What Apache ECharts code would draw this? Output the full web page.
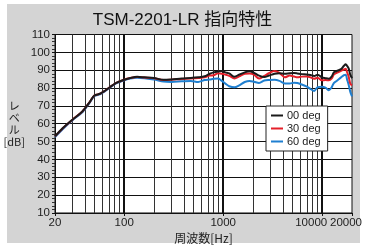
<!DOCTYPE html>
<html>
<head>
<meta charset="utf-8">
<script src="https://cdn.jsdelivr.net/npm/echarts@6/dist/echarts.min.js"></script>
<style>
  html, body { margin: 0; padding: 0; background: #fff; }
  #chart { width: 365px; height: 249px; }
</style>
</head>
<body>
<div id="chart"></div>
<script>
// frequency points (Hz) and levels (dB)
const freqs = [20, 24, 30, 38, 45, 50, 57, 64, 72, 84, 98, 115, 135, 160, 200, 250, 300, 380, 470, 560,
  650, 730, 800, 890, 970, 1050, 1150, 1300, 1450, 1650, 1850, 2050, 2300, 2600, 2900, 3300, 3700,
  4200, 4700, 5200, 5600, 6200, 7000, 7600, 8300, 9000, 9900, 10800, 11700, 12500, 13100, 14000,
  15500, 16600, 17300, 17800, 18500, 19200, 20000];
const deg00 = [53, 57.6, 62.3, 67, 72.3, 75.8, 76.8, 78.5, 80.6, 83, 84.5, 85.6, 86.3, 86, 85.6, 84.6, 84.8, 85.3, 85.6, 86,
  86.6, 88, 88.8, 89.3, 89.5, 88.8, 88.2, 86.3, 87.5, 88.8, 89.4, 88.5, 87, 86.2, 87, 88, 88.3,
  88, 88.3, 88.4, 88.2, 87.8, 87.6, 87.3, 86.8, 87.5, 86, 85.5, 85.2, 86.5, 88.8, 89.5,
  90.6, 92.5, 93.3, 92.5, 91, 87.5, 85.5];
const deg30 = [52.9, 57.5, 62.3, 67, 72.3, 75.8, 76.8, 78.5, 80.6, 83, 84.5, 85.6, 86.2, 85.9, 85.5, 84.5, 84.7, 85.1, 85.3, 85.6,
  86, 87, 87.2, 88.3, 88, 87.5, 86.8, 85.4, 86.5, 88, 88.2, 87.5, 85.3, 86.8, 88.3, 89.5, 88.5,
  86, 87, 86.5, 86, 86.4, 86.5, 86, 85.2, 85.8, 84.3, 84.5, 84.3, 85.5, 87.5, 88.5,
  89.7, 90.4, 90.8, 89, 86.5, 82.5, 81.5];
const deg60 = [52.5, 57.1, 62, 66.6, 72, 75.5, 76.5, 78.2, 80.3, 82.7, 84.2, 85.3, 85.8, 85.5, 84.8, 83.6, 83.4, 83.8, 84, 83.4,
  84.5, 84.8, 85.2, 85.3, 84, 82.5, 81, 80.4, 81.5, 83.4, 84, 83.5, 82.8, 84.2, 84.5, 84.6, 84,
  82.6, 82.5, 83, 82.8, 82, 80.8, 79.5, 78.4, 80.5, 80.7, 80.2, 78.8, 80.5, 82.8, 84,
  86, 87.2, 87.5, 85, 81.8, 78, 75.3];
const seriesNames = ['00 deg', '30 deg', '60 deg'];
const seriesColors = ['#1a1a1a', '#e5202a', '#1f7fd0'];
const minorGridHz = [30, 40, 50, 60, 70, 80, 90, 200, 300, 400, 500, 600, 700, 800, 900,
  2000, 3000, 4000, 5000, 6000, 7000, 8000, 9000];
const decadeGridHz = [100, 1000, 10000];
const xTickLabels = [20, 100, 1000, 10000, 20000];

const chart = echarts.init(document.getElementById('chart'));

const gridLines = minorGridHz.map(v => ({ xAxis: v, lineStyle: { color: '#333', width: 1, type: 'solid' } }))
  .concat(decadeGridHz.map(v => ({ xAxis: v, lineStyle: { color: '#111', width: 2, type: 'solid' } })));

// x tick labels drawn as labels of invisible marker lines, so the tight 10000/20000 pair is not dropped
const labelShift = { 10000: [0, 22, 0, 0], 20000: [0, 12, 0, 0] };
const tickLabelLines = xTickLabels.map(v => ({
  xAxis: v,
  lineStyle: { color: 'rgba(0,0,0,0)', width: 0, type: 'solid' },
  label: {
    show: true, position: 'start', distance: 4, formatter: String(v), opacity: 1,
    fontSize: 11.5, color: '#222', padding: labelShift[v] || 0
  }
}));

const levelSeries = [deg00, deg30, deg60].map((vals, k) => ({
  name: seriesNames[k],
  type: 'line',
  data: freqs.map((f, i) => [f, vals[i]]),
  showSymbol: false,
  smooth: 0.3,
  z: 3 + (2 - k),
  lineStyle: { width: 2, color: seriesColors[k] },
  itemStyle: { color: seriesColors[k] }
}));

const option = {
  backgroundColor: '#fff',
  animation: false,
  textStyle: { fontFamily: 'Liberation Sans, Arial, sans-serif' },
  graphic: [{
    type: 'rect', z: -10, silent: true,
    shape: { x: 7, y: 4, width: 353, height: 239 },
    style: { fill: '#d4d4d4' }
  }],
  title: {
    text: 'TSM-2201-LR 指向特性',
    left: 'center',
    top: 7,
    textStyle: { fontSize: 17, fontWeight: 'normal', color: '#111',
      fontFamily: 'Liberation Sans, "Noto Sans CJK JP", sans-serif' }
  },
  legend: {
    orient: 'vertical',
    left: 266,
    top: 106,
    data: seriesNames,
    icon: 'rect',
    itemWidth: 12,
    itemHeight: 2,
    itemGap: 0,
    padding: [3, 7, 3, 5],
    backgroundColor: '#fff',
    borderColor: '#222',
    borderWidth: 1,
    borderRadius: 0,
    textStyle: { fontSize: 11, color: '#222', padding: [0, 0, 0, -1], lineHeight: 13 }
  },
  grid: {
    left: 55, right: 13, top: 34.5, bottom: 31,
    show: true, backgroundColor: '#fff', borderColor: '#111', borderWidth: 1
  },
  xAxis: {
    type: 'log',
    logBase: 10,
    min: 20,
    max: 20000,
    name: '周波数[Hz]',
    nameLocation: 'middle',
    nameGap: 19,
    nameTextStyle: { fontSize: 12, color: '#222',
      fontFamily: '"Noto Sans CJK JP", sans-serif' },
    axisLine: { lineStyle: { color: '#111', width: 1 } },
    axisTick: { show: true, length: 3, lineStyle: { color: '#111' } },
    splitLine: { show: false },
    axisLabel: { show: false }
  },
  yAxis: {
    type: 'value',
    min: 10,
    max: 110,
    interval: 10,
    name: 'レ\nベ\nル\n[dB]',
    nameLocation: 'middle',
    nameRotate: 0,
    nameGap: 34,
    nameTextStyle: { fontSize: 11, color: '#222', align: 'center', verticalAlign: 'middle',
      lineHeight: 12, fontFamily: '"Noto Sans CJK JP", sans-serif' },
    axisLine: { show: true, lineStyle: { color: '#111', width: 1 } },
    axisTick: { show: true, length: 3, lineStyle: { color: '#111' } },
    minorTick: { show: true, splitNumber: 5, length: 3, lineStyle: { color: '#333' } },
    splitLine: { show: true, lineStyle: { color: '#111', width: 1 } },
    axisLabel: { fontSize: 11.5, color: '#222', margin: 5 }
  },
  series: [{
    type: 'line',
    data: [],
    silent: true,
    z: 1,
    markLine: {
      silent: true,
      symbol: 'none',
      z: 1,
      label: { show: false },
      animation: false,
      data: gridLines.concat(tickLabelLines)
    }
  }].concat(levelSeries)
};

chart.setOption(option);
</script>
</body>
</html>
